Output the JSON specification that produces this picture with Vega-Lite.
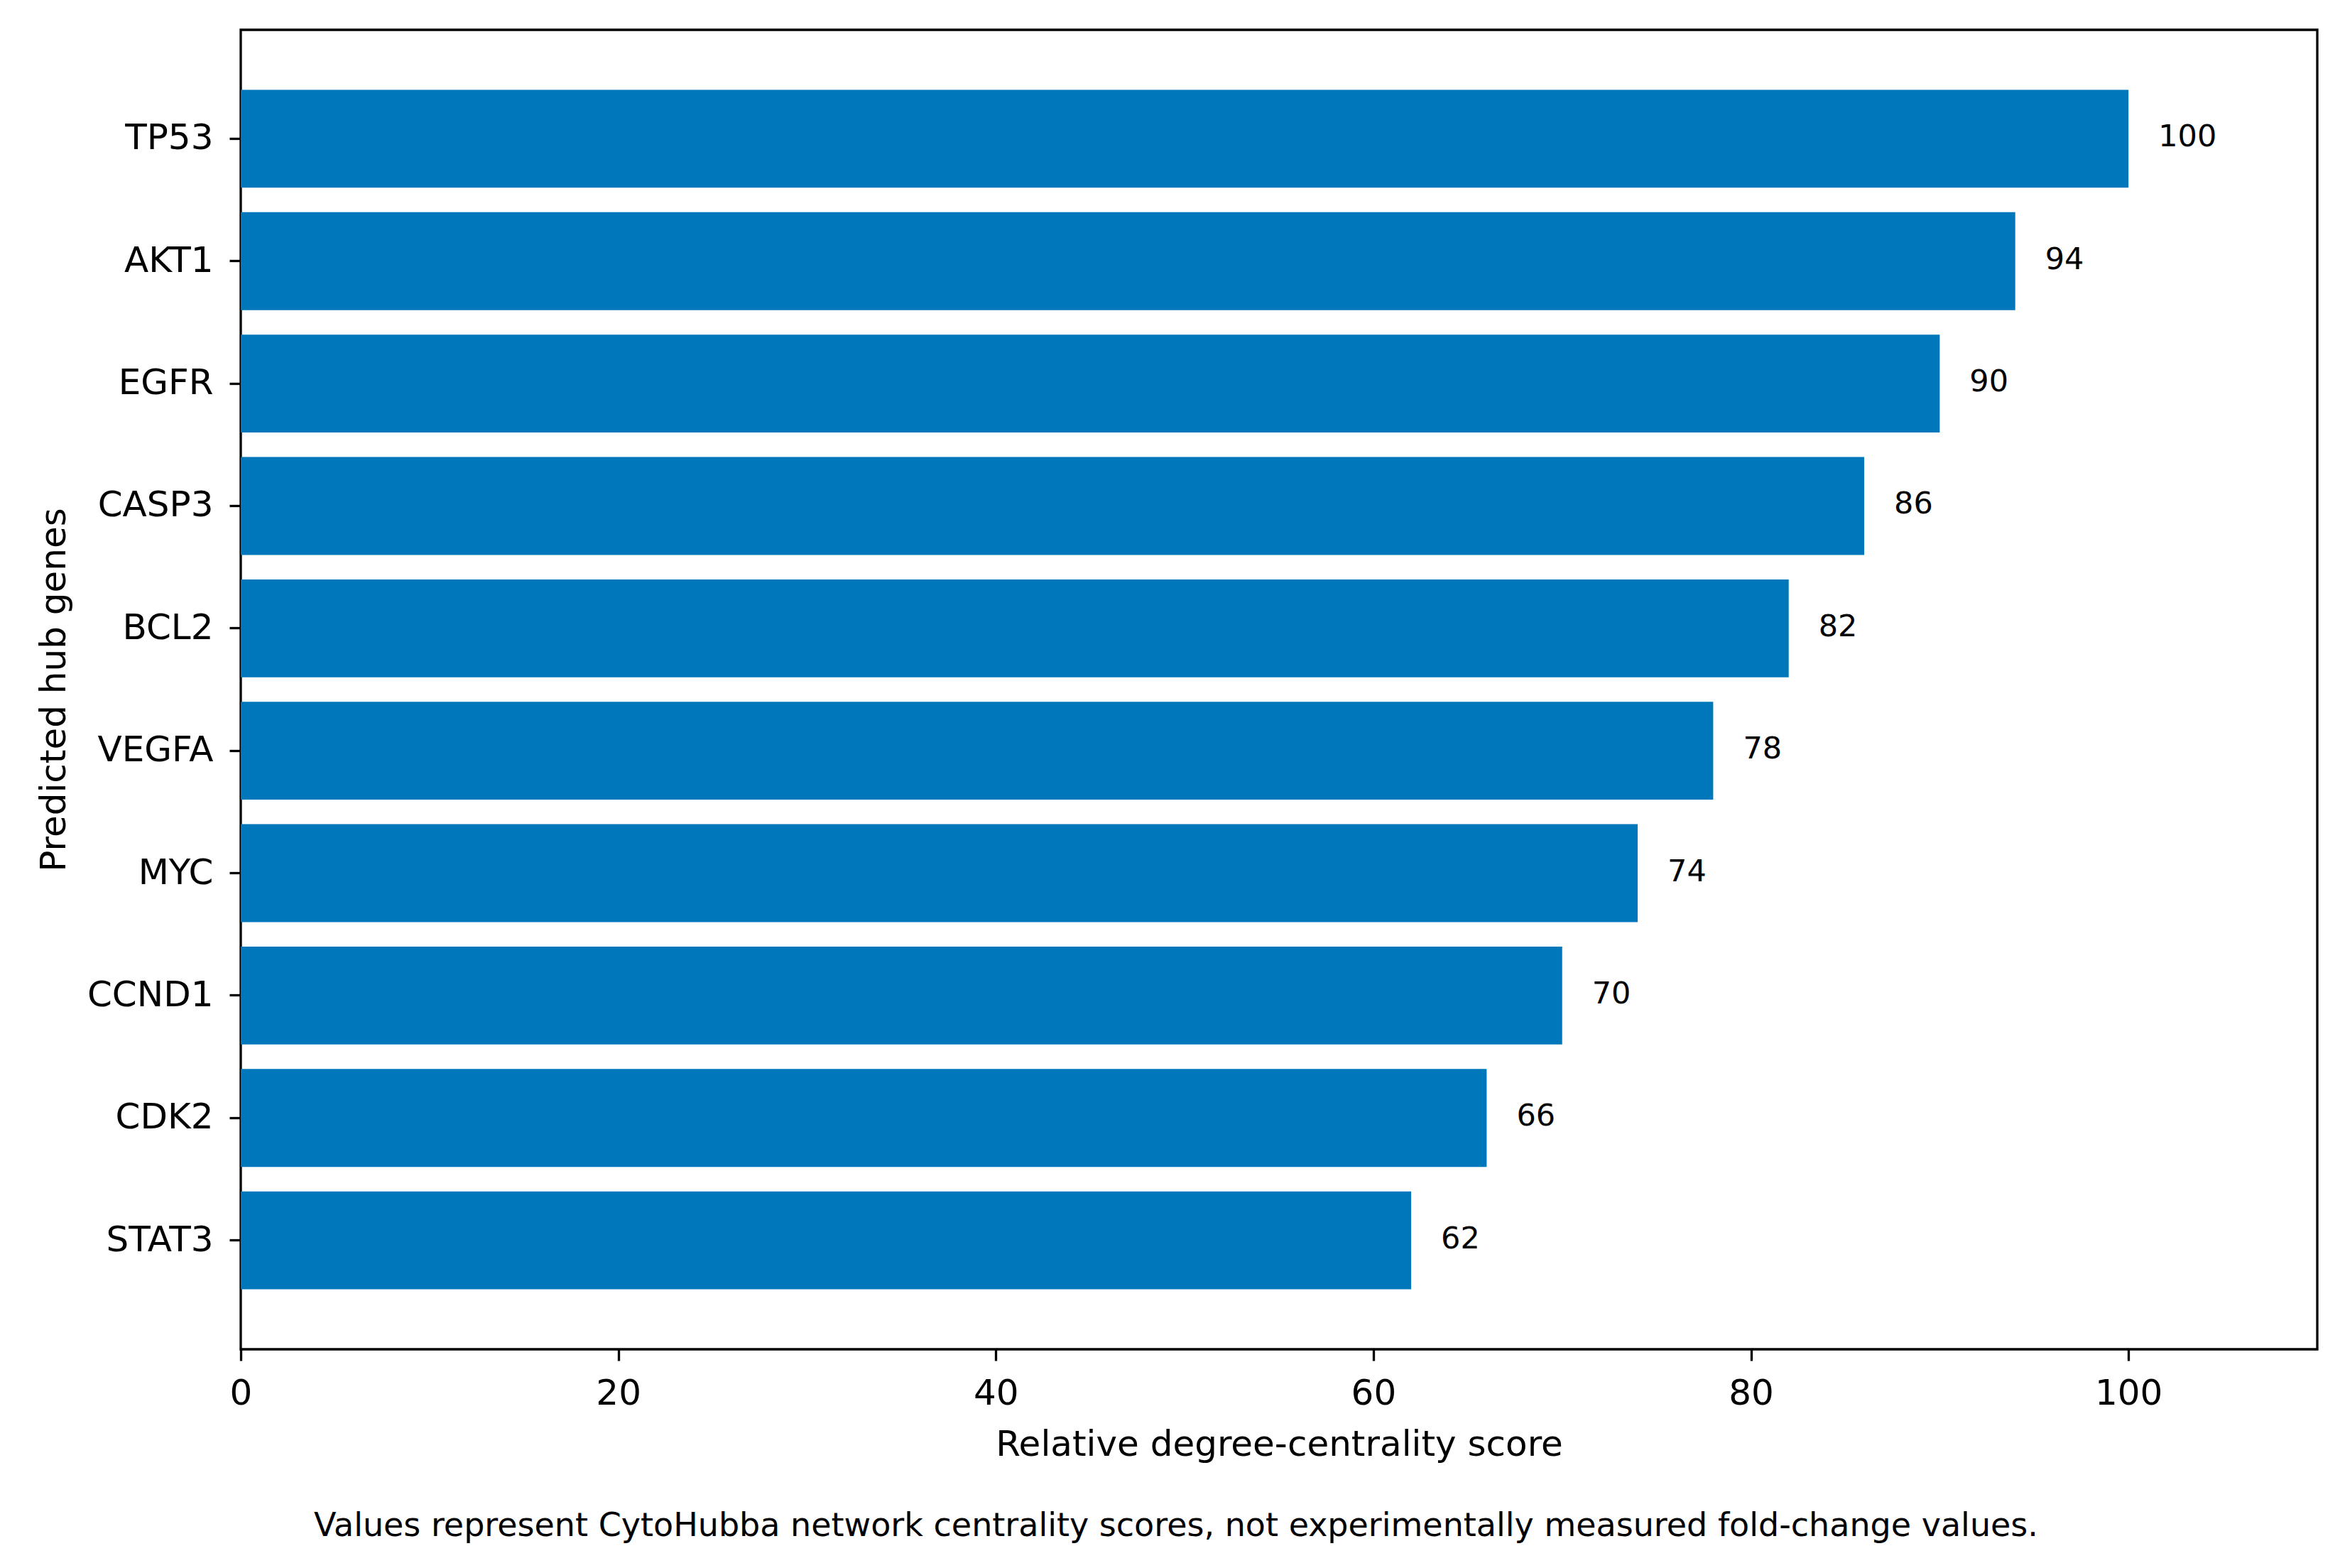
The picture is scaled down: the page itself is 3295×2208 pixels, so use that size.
{
  "$schema": "https://vega.github.io/schema/vega-lite/v6.json",
  "autosize": "none",
  "width": 2924,
  "height": 1858,
  "padding": {"left": 339, "top": 42, "right": 32, "bottom": 308},
  "background": "white",
  "config": {
    "font": "DejaVu Sans",
    "view": {"stroke": "black", "strokeWidth": 3.3},
    "axis": {
      "domain": false,
      "grid": false,
      "tickColor": "black",
      "tickWidth": 3.3,
      "tickSize": 16,
      "labelColor": "black",
      "labelFont": "DejaVu Sans",
      "labelFontSize": 50,
      "titleFont": "DejaVu Sans",
      "titleFontSize": 50,
      "titleFontWeight": "normal",
      "titleColor": "black"
    }
  },
  "title": {
    "text": "Values represent CytoHubba network centrality scores, not experimentally measured fold-change values.",
    "orient": "bottom",
    "anchor": "middle",
    "dx": -145,
    "offset": 68,
    "font": "DejaVu Sans",
    "fontSize": 46,
    "fontWeight": "normal",
    "color": "black"
  },
  "data": {
    "values": [
      {"gene": "TP53", "score": 100},
      {"gene": "AKT1", "score": 94},
      {"gene": "EGFR", "score": 90},
      {"gene": "CASP3", "score": 86},
      {"gene": "BCL2", "score": 82},
      {"gene": "VEGFA", "score": 78},
      {"gene": "MYC", "score": 74},
      {"gene": "CCND1", "score": 70},
      {"gene": "CDK2", "score": 66},
      {"gene": "STAT3", "score": 62}
    ]
  },
  "encoding": {
    "y": {
      "field": "gene",
      "type": "nominal",
      "sort": null,
      "scale": {"paddingInner": 0.2, "paddingOuter": 0.49},
      "axis": {
        "title": "Predicted hub genes",
        "labelPadding": 23,
        "titlePadding": 38
      }
    },
    "x": {
      "field": "score",
      "type": "quantitative",
      "scale": {"domain": [0, 110], "nice": false, "zero": true},
      "axis": {
        "title": "Relative degree-centrality score",
        "values": [0, 20, 40, 60, 80, 100],
        "labelPadding": 21,
        "titlePadding": 22,
        "labelFlush": false
      }
    }
  },
  "layer": [
    {
      "mark": {"type": "bar", "color": "#0077BB"}
    },
    {
      "mark": {
        "type": "text",
        "align": "left",
        "baseline": "middle",
        "dx": 42,
        "dy": -2,
        "fontSize": 43,
        "font": "DejaVu Sans",
        "color": "black"
      },
      "encoding": {
        "text": {"field": "score", "type": "quantitative"}
      }
    }
  ]
}
